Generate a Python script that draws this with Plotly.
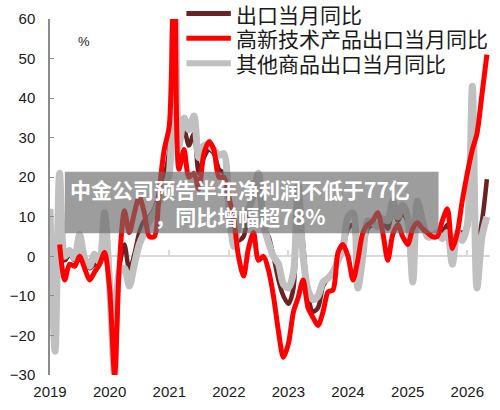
import plotly.graph_objects as go
import pandas as pd

# ---------------- data ----------------
months = pd.date_range("2019-01-01", periods=89, freq="MS").strftime("%Y-%m-%d").tolist()

year_ticks = ["2019-01-01", "2020-01-01", "2021-01-01", "2022-01-01",
              "2023-01-01", "2024-01-01", "2025-01-01", "2026-01-01"]
year_labels = ["2019", "2020", "2021", "2022", "2023", "2024", "2025", "2026"]

series_names = ["出口当月同比", "高新技术产品出口当月同比", "其他商品出口当月同比"]

export_total = [
    9, -19, 14, -1, 0.5, -1, 2.5, -1.5, -3, -2, -1, 8,
    -6, -29, -3, 3, -3.5, 0.5, 6, 9, 10, 12, 16, 20,
    27, 100, 30, 32, 28, 31, 21, 25, 27, 26, 22, 21,
    15, 8, 4, 5, 11, 15, 17, 7, 5, 0, -6, -10,
    -12, -8, 13, 3, -10, -14, -13, -7.5, -5.5, -4, 0, 2,
    7, 8, -5, 0.5, 7, 8, 8, 9, 7, 12, 9, 11,
    8.5, 0, 12, 8, 5, 5.5, 6, 6, 8, 0, 6, 6,
    7, 30, 3, 9, 19.5,
]

export_hightech = [
    None, None, 3, -6, -2, -2.5, 0, -3, -6, -4, -2, 1,
    -8, -30, -2, 11.5, 6, 11, 15, 11, 5, 5, 17, 27,
    33, 80, 22, 27, 20, 21, 17, 26, 29, 27, 20, 20,
    15, 9, 0, -5, 2, 6, -1, 0, -3.5, -10, -19, -25.5,
    -22, -14, -10.5, -6, -13, -15.5, -17.5, -14, -9, -8.5, 1, 3,
    0, -6, -1, 6, 8, 9, 11, 6, -1, 5.5, 8, 5,
    3, 7, 8.5, 7, 6, 5, 5, 9, 12, 2, 6, 14,
    21, 27, 31, 41, 51,
]

export_other = [
    12, -24, 21, 0, 1.5, -0.5, 5.5, -0.5, -2.5, 0.5, -1.5, 11,
    -7, -30, -4, -3, -7.5, -2, 3, 6, 9, 11, 14, 17,
    21, 130, 28, 35, 32, 35.5, 25, 28, 28, 27, 25.5, 26,
    12, 2.5, 8, 11, 12, 16, 21, 8, 3.5, 0, -2, -7,
    -8, -4, 18, 0, -8.5, -11, -10, -6.5, -5.5, -4, -1, 2,
    10, 11, -8, 0, 9, 8.5, 7.5, 9.5, 9, 14, 10, 13,
    10, -6.5, 14, 9, 5, 5, 6, 4.5, 6, -2, 6, 4,
    8, 43, -8, 5, 10,
]

colors = ["#6b2222", "#ff0000", "#c0c0c0"]
widths = [4.5, 5, 7]

# ---------------- figure ----------------
fig = go.Figure()

# drawing order: brown bottom, gray, red on top
order = [0, 2, 1]
values = [export_total, export_hightech, export_other]
for k in order:
    fig.add_trace(go.Scatter(
        x=months, y=values[k], mode="lines", name=series_names[k],
        line=dict(color=colors[k], width=widths[k], shape="spline", smoothing=0.8),
        showlegend=False, hoverinfo="skip",
    ))

# dummy trace carrying the zero-crossing x axis
fig.add_trace(go.Scatter(x=[months[0]], y=[None], xaxis="x2", mode="lines",
                         showlegend=False, hoverinfo="skip"))

x_range = ["2019-01-01", "2026-05-20"]
tick_font = dict(family="Liberation Sans, Arial", size=15, color="#1a1a1a")

fig.update_layout(
    width=500, height=410,
    margin=dict(l=45, r=10, t=19, b=32),
    plot_bgcolor="white", paper_bgcolor="white",
    showlegend=False,
    xaxis=dict(type="date", range=x_range, tickvals=year_ticks, ticktext=year_labels,
               showline=False, showgrid=False, zeroline=False, ticks="",
               tickfont=tick_font, ticklabelstandoff=6),
    xaxis2=dict(type="date", overlaying="x", anchor="free", position=1/3,
                range=x_range, tickvals=year_ticks, showticklabels=False,
                showline=True, linecolor="#d9d9d9", linewidth=2,
                ticks="inside", ticklen=5, tickwidth=1.5, tickcolor="#d9d9d9",
                showgrid=False, zeroline=False, layer="below traces"),
    yaxis=dict(range=[-30, 60], dtick=10, showgrid=False, zeroline=False,
               showline=True, linecolor="#8c8c8c", linewidth=1.5,
               ticks="inside", ticklen=4, tickcolor="#8c8c8c",
               tickfont=tick_font, ticklabelstandoff=10),
)

# "%" unit label
fig.add_annotation(text="%", xref="paper", yref="paper", x=0.058, y=0.964,
                   showarrow=False, font=dict(family="Liberation Sans, Arial", size=13, color="#1a1a1a"))

# manual legend (long line samples), tightly stacked like the reference
leg_y = [1.0153, 0.946, 0.8755]
for k in range(3):
    fig.add_shape(type="line", xref="paper", yref="paper",
                  x0=0.310, x1=0.411, y0=leg_y[k], y1=leg_y[k],
                  line=dict(color=colors[k], width=[5, 5, 6][k]))
    fig.add_annotation(text=series_names[k], xref="paper", yref="paper",
                       x=0.421, y=leg_y[k], xanchor="left", yanchor="middle",
                       showarrow=False, borderpad=0,
                       font=dict(family="Noto Sans CJK SC", size=21, color="#1a1a1a"))

# overlay banner
fig.add_shape(type="rect", xref="paper", yref="paper",
              x0=0.0337, x1=0.883, y0=0.398, y1=0.571,
              fillcolor="rgba(105,105,105,0.65)", line=dict(width=0), layer="above")
fig.add_annotation(text="<b>中金公司预告半年净利润不低于77亿<br>，同比增幅超78%</b>",
                   xref="paper", yref="paper", x=0.432, y=0.4845,
                   xanchor="center", yanchor="middle", showarrow=False, align="center",
                   font=dict(family="Noto Sans CJK SC", size=21, color="white"))

fig.write_html("out.html")
